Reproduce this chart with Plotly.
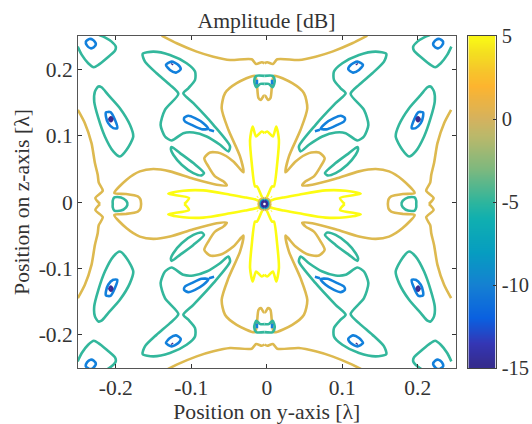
import plotly.graph_objects as go

# Symmetry centre of the field pattern
CY, CZ = -0.003, -0.003

YELLOW, GOLD, TEAL, BLUE, NAVY = "#FCFC12", "#DDB94F", "#33B79C", "#1280DC", "#3B2A8F"

# Upper-left quadrant contours as (y, z), in wavelengths
teal_corner = [(-.2505,.234),(-.245,.2215),(-.2365,.209),(-.229,.203),(-.223,.2065),(-.212,.2165),(-.201,.228),(-.2,.234),(-.2055,.2415),(-.2145,.248),(-.222,.2515)]
blue_corner = [(-.2396,.2415),(-.235,.2455),(-.23,.244),(-.2263,.238),(-.229,.233),(-.2334,.2315),(-.238,.2355),(-.2396,.2415)]
teal_left = [(-.223,.174),(-.2276,.1663),(-.2285,.1513),(-.223,.1263),(-.2144,.0987),(-.2033,.0762),(-.1945,.0686),(-.1856,.0787),(-.1768,.0987),(-.1812,.1162),(-.1945,.1413),(-.21,.1613),(-.2188,.1728),(-.223,.174)]
blue_left = [(-.213,.1348),(-.2069,.1353),(-.2011,.1237),(-.198,.1112),(-.2033,.1112),(-.21,.1187),(-.213,.1288),(-.213,.1348)]
navy_left = [(-.2085,.1247),(-.2064,.1275),(-.2045,.1247),(-.2064,.1215),(-.2085,.1247)]
teal_mid = [(-.1644,.223),(-.1503,.2265),(-.1282,.2214),(-.1061,.2089),(-.095,.1964),(-.095,.1839),(-.1039,.1713),(-.1105,.1638),(-.0972,.1488),(-.0707,.1162),(-.0486,.0837),(-.0508,.0762),(-.0619,.0862),(-.0796,.0987),(-.0972,.1047),(-.1105,.1037),(-.126,.0927),(-.1348,.0987),(-.1406,.1162),(-.1348,.1388),(-.1171,.1628),(-.1282,.1764),(-.1459,.1939),(-.1613,.2114),(-.1644,.223)]
blue_upper = [(-.1335,.2064),(-.126,.2114),(-.1171,.2064),(-.114,.1999),(-.1202,.1949),(-.1282,.1989),(-.1335,.2064)]
navy_upper = [(-.1258,.2066),(-.1248,.2082)]
blue_leaf = [(-.1096,.1263),(-.1039,.1298),(-.095,.1263),(-.084,.1187),(-.0774,.1102),(-.0862,.1097),(-.0995,.1162),(-.1083,.1212),(-.1096,.1263)]
blue_tail = [(-.0765,.1087),(-.0698,.1067)]
teal_sliver = [(-.126,.0827),(-.1149,.0736),(-.0972,.0586),(-.0831,.0436),(-.0862,.0401),(-.0972,.0436),(-.1127,.0561),(-.1238,.0711),(-.1269,.0787),(-.126,.0827)]
gold_top = [(-.1392,.2505),(-.1193,.239),(-.0928,.2265),(-.0707,.2189),(-.0486,.2139),(-.0199,.2149),(-.0141,.2079),(-.0066,.2104),(-.003,.2089)]
gold_edge = [(-.2502,.1388),(-.2409,.1187),(-.2321,.0887),(-.2276,.0586),(-.2239,.041),(-.2225,.029),(-.2172,.017),(-.227,.006),(-.2208,-.003)]
gold_main = [(-.1664,-.003),(-.1673,.004),(-.1708,.0084),(-.1863,.012),(-.2019,.0135),(-.1856,.0336),(-.168,.0461),(-.1503,.0496),(-.1282,.0461),(-.0972,.0351),(-.0663,.0261),(-.053,.0251),(-.0575,.0311),(-.0685,.0386),(-.0774,.0536),(-.0827,.0661),(-.0751,.0746),(-.0619,.0736),(-.0442,.0611),(-.0309,.0446),(-.0354,.0686),(-.0508,.1087),(-.0597,.1413),(-.0553,.1638),(-.0398,.1789),(-.0155,.19),(-.013,.1764),(-.0109,.1564),(-.0077,.1538),(-.0042,.1598),(-.003,.1598)]
teal_top = [(-.003,.19),(-.0139,.19),(-.0166,.1829),(-.0139,.1729),(-.0086,.1779),(-.003,.1779)]
blue_top = [(-.013,.184),(-.013,.177)]
teal_side = [(-.1841,-.003),(-.1863,.002),(-.193,.0069),(-.2019,.0069),(-.204,.002),(-.204,-.003)]
yellow_h = [(-.1092,-.003),(-.103,.006),(-.1304,.0125),(-.1105,.017),(-.084,.0175),(-.0486,.011),(-.0285,.0069),(-.0143,.0035),(-.01,.0015)]
yellow_v = [(-.003,.1037),(-.0066,.1062),(-.0141,.0987),(-.0186,.1137),(-.0221,.0937),(-.0199,.0586),(-.0155,.0235),(-.013,.0235),(-.0077,.011),(-.006,.007)]
yellow_dot = [(-.0125,.0072),(-.0118,.0078)]
ring_gold = [(-.011,-.003),(-.0087,.0034),(-.003,.006)]
ring_teal = [(-.0085,-.003),(-.0069,.0016),(-.003,.0035)]
ring_blue = [(-.0075,-.003),(-.0062,.0007),(-.003,.0022)]
ring_navy = [(-.0065,-.003),(-.0055,-.0002),(-.003,.001)]

curves = [
    (gold_top, GOLD), (gold_edge, GOLD), (gold_main, GOLD),
    (yellow_h, YELLOW), (yellow_v, YELLOW), (yellow_dot, YELLOW),
    (teal_corner, TEAL), (teal_left, TEAL), (teal_mid, TEAL), (teal_sliver, TEAL),
    (teal_top, TEAL), (teal_side, TEAL),
    (blue_corner, BLUE), (blue_left, BLUE), (blue_upper, BLUE), (blue_leaf, BLUE),
    (blue_tail, BLUE), (blue_top, BLUE),
    (navy_left, NAVY), (navy_upper, NAVY),
    (ring_gold, GOLD), (ring_teal, TEAL), (ring_blue, BLUE), (ring_navy, NAVY),
]

y_ticks = [-0.2, -0.1, 0, 0.1, 0.2]
y_labels = ["-0.2", "-0.1", "0", "0.1", "0.2"]
cbar_ticks = [-15, -10, -5, 0, 5]
cbar_labels = ["-15", "-10", "-5", "0", "5"]
cbar_levels = [-14.75, -14.25, -13.75, -13.25, -12.75, -12.25, -11.75, -11.25, -10.75, -10.25,
               -9.75, -9.25, -8.75, -8.25, -7.75, -7.25, -6.75, -6.25, -5.75, -5.25,
               -4.75, -4.25, -3.75, -3.25, -2.75, -2.25, -1.75, -1.25, -0.75, -0.25,
               0.25, 0.75, 1.25, 1.75, 2.25, 2.75, 3.25, 3.75, 4.25, 4.75]
cbar_scale = [
    (0.0, "#352A87"), (0.075, "#3436B5"), (0.15, "#0A60E0"), (0.25, "#1580D2"),
    (0.35, "#069DC0"), (0.45, "#10AFB0"), (0.5, "#2DB59D"), (0.6, "#7DB87E"),
    (0.7, "#BBB86A"), (0.75, "#D4B25E"), (0.85, "#FDB42F"), (0.9, "#F6C72A"),
    (0.95, "#F4DF20"), (1.0, "#FAFB14"),
]

FONT = "Liberation Serif"
INK = "#333333"
TICK_SIZE = 21.5
TITLE_SIZE = 21.7
L, R, PLOT_R, BAR_L, BAR_R = 78, 531, 455.5, 468.3, 495.7
W = R - L
fig = go.Figure()
for pts, color in curves:
    for sy, sz in ((1, 1), (-1, 1), (1, -1), (-1, -1)):
        xs = [CY + sy * (p[0] - CY) for p in pts]
        zs = [CZ + sz * (p[1] - CZ) for p in pts]
        fig.add_trace(go.Scatter(
            x=xs, y=zs, mode="lines", showlegend=False, hoverinfo="skip",
            line=dict(color=color, width=2.6, shape="spline", smoothing=0.7),
        ))

fig.add_trace(go.Heatmap(
    x=[0, 1], y=cbar_levels, z=[[v, v] for v in cbar_levels],
    xaxis="x2", yaxis="y2", zmin=-15, zmax=5, zsmooth="best",
    colorscale=[list(s) for s in cbar_scale], showscale=False, hoverinfo="skip",
))

axis = dict(
    ticks="inside", ticklen=4, tickcolor=INK, tickwidth=1,
    showline=True, linecolor="#555555", linewidth=1, mirror="ticks",
    showgrid=False, zeroline=False, automargin=False,
    tickfont=dict(family=FONT, size=TICK_SIZE, color=INK),
)
main = dict(axis, range=[-0.25, 0.25], tickmode="array", tickvals=y_ticks, ticktext=y_labels)
cbar_font = dict(family=FONT, size=20.5, color=INK)
fig.update_layout(
    width=532, height=424, autosize=False,
    margin=dict(l=L, r=532 - R, t=36, b=56),
    paper_bgcolor="white", plot_bgcolor="white",
    font=dict(family=FONT, color=INK),
    title=dict(text="Amplitude [dB]", x=266.5 / 532, xref="container", xanchor="center",
               y=1 - 28 / 424, yref="container", yanchor="bottom", automargin=False,
               font=dict(family=FONT, size=TITLE_SIZE, color=INK)),
    xaxis=dict(main, domain=[0, (PLOT_R - L) / W],
               title=dict(text="Position on y-axis [λ]", standoff=4,
                          font=dict(family=FONT, size=TITLE_SIZE, color=INK))),
    yaxis=dict(main, title=dict(text="Position on z-axis [λ]", standoff=3,
                                font=dict(family=FONT, size=TITLE_SIZE, color=INK))),
    xaxis2=dict(domain=[(BAR_L - L) / W, (BAR_R - L) / W], range=[0, 1], anchor="y2",
                showticklabels=False, ticks="", showline=True, linecolor="#444444",
                linewidth=1, mirror=True, showgrid=False, zeroline=False),
    yaxis2=dict(axis, anchor="x2", side="right", range=[-15, 5], tickmode="array",
                tickvals=cbar_ticks, ticktext=cbar_labels, ticklen=3, mirror=True,
                linecolor="#444444", ticklabelstandoff=1, tickfont=cbar_font),
)
fig.write_html("out.html", config=dict(displayModeBar=False),
               post_script="document.body.style.margin='0';")
